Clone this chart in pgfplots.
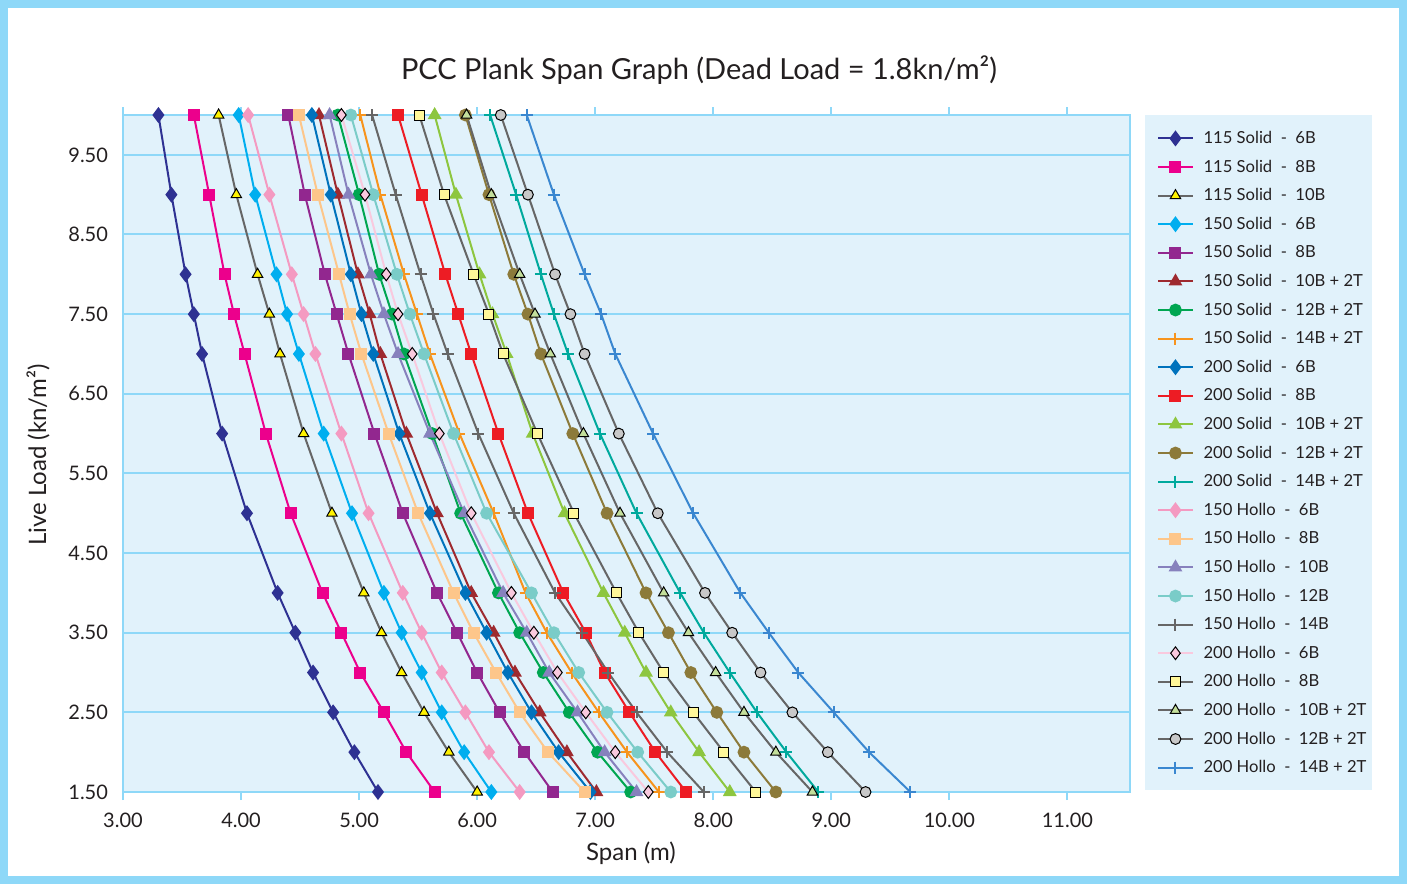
\documentclass[border=0pt]{standalone}
\usepackage{fontspec}
\setmainfont{Lato}
\usepackage{pgfplots}
\usepackage{pgfplotstable}
\pgfplotsset{compat=1.18}

\definecolor{framecol}{HTML}{8ED8F8}
\definecolor{bgcol}{HTML}{E1F2FB}
\definecolor{gridcol}{HTML}{8ED8F8}
\definecolor{txtcol}{HTML}{231F20}
\definecolor{cNavy}{HTML}{2E3192}
\definecolor{cMag}{HTML}{EC008C}
\definecolor{cGray}{HTML}{666666}
\definecolor{cYel}{HTML}{FFF200}
\definecolor{cCyan}{HTML}{00AEEF}
\definecolor{cPurp}{HTML}{92278F}
\definecolor{cMaroon}{HTML}{9E2A2F}
\definecolor{cGreen}{HTML}{00A651}
\definecolor{cOrange}{HTML}{F7941D}
\definecolor{cBlue}{HTML}{0072BC}
\definecolor{cRed}{HTML}{ED1C24}
\definecolor{cLime}{HTML}{8DC63F}
\definecolor{cOlive}{HTML}{8C7A3A}
\definecolor{cTeal}{HTML}{00A99D}
\definecolor{cPink}{HTML}{F49AC1}
\definecolor{cPeach}{HTML}{FDC68A}
\definecolor{cLav}{HTML}{8781BD}
\definecolor{cAqua}{HTML}{7ACCC8}
\definecolor{cPaleP}{HTML}{F9C9DE}
\definecolor{cPaleY}{HTML}{FFF799}
\definecolor{cPaleG}{HTML}{C4DF9B}
\definecolor{cPaleGr}{HTML}{C8C8C8}
\definecolor{cSky}{HTML}{3A87D0}

% live load (ll) against span for each section
\pgfplotstableread{
ll  a    b    c    d    e    f    g    h    i    j    k    l    m    n    o    p    q    r    s    t    u    v    w
10  3.30 3.60 3.81 3.98 4.40 4.66 4.82 5.01 4.60 5.33 5.64 5.90 6.11 4.06 4.49 4.75 4.93 5.11 4.85 5.51 5.91 6.20 6.42
9   3.41 3.73 3.96 4.12 4.54 4.82 5.00 5.18 4.76 5.53 5.82 6.10 6.33 4.24 4.65 4.91 5.12 5.31 5.05 5.72 6.12 6.43 6.65
8   3.53 3.86 4.14 4.30 4.71 4.99 5.17 5.38 4.93 5.73 6.02 6.31 6.54 4.43 4.83 5.10 5.32 5.52 5.23 5.97 6.36 6.66 6.91
7.5 3.60 3.94 4.24 4.39 4.81 5.09 5.28 5.49 5.02 5.84 6.13 6.43 6.65 4.53 4.92 5.21 5.43 5.63 5.33 6.10 6.49 6.79 7.05
7   3.67 4.03 4.33 4.49 4.91 5.18 5.38 5.60 5.12 5.95 6.25 6.54 6.77 4.63 5.02 5.33 5.55 5.75 5.45 6.22 6.62 6.91 7.17
6   3.84 4.21 4.53 4.70 5.13 5.40 5.62 5.85 5.34 6.18 6.47 6.81 7.04 4.85 5.25 5.60 5.80 6.01 5.68 6.51 6.90 7.20 7.49
5   4.05 4.42 4.77 4.94 5.37 5.66 5.86 6.14 5.60 6.43 6.74 7.10 7.35 5.08 5.50 5.89 6.08 6.31 5.95 6.82 7.21 7.53 7.83
4   4.31 4.69 5.04 5.21 5.66 5.95 6.18 6.41 5.90 6.73 7.07 7.43 7.72 5.37 5.80 6.22 6.46 6.66 6.29 7.18 7.58 7.93 8.23
3.5 4.46 4.85 5.19 5.36 5.83 6.14 6.36 6.59 6.08 6.92 7.25 7.62 7.92 5.53 5.97 6.42 6.65 6.89 6.48 7.37 7.79 8.16 8.47
3   4.61 5.01 5.36 5.53 6.00 6.32 6.56 6.80 6.26 7.08 7.43 7.81 8.14 5.70 6.16 6.61 6.86 7.11 6.68 7.58 8.02 8.40 8.72
2.5 4.78 5.21 5.55 5.70 6.19 6.53 6.78 7.03 6.46 7.29 7.64 8.03 8.37 5.90 6.36 6.85 7.10 7.35 6.92 7.83 8.26 8.67 9.02
2   4.96 5.40 5.76 5.89 6.40 6.76 7.02 7.27 6.69 7.51 7.88 8.26 8.62 6.10 6.60 7.08 7.36 7.61 7.17 8.09 8.53 8.97 9.32
1.5 5.16 5.64 6.00 6.12 6.64 7.01 7.30 7.54 6.96 7.77 8.14 8.53 8.89 6.36 6.91 7.35 7.64 7.92 7.45 8.36 8.84 9.29 9.67
}\spans

\begin{document}
\begin{tikzpicture}[x=1pt,y=1pt]
\draw[line width=4pt, framecol] (-59.5,-44) rectangle (640,394);
\fill[bgcol] (511,1) rectangle (624.5,338.5);
\node[txtcol, font=\fontsize{14.5}{16}\selectfont] at (288,361) {PCC Plank Span Graph (Dead Load = 1.8kn/m²)};
\node[txtcol, font=\fontsize{12}{14}\selectfont, rotate=90] at (-42.5,168.5) {Live Load (kn/m²)};
\node[txtcol, font=\fontsize{12}{14}\selectfont] at (254,-30.5) {Span (m)};
\begin{axis}[
    at={(0,0)}, anchor=south west,
    scale only axis,
    width=503.5pt, height=338.5pt,
    xmin=3, xmax=11.53,
    ymin=1.5, ymax=10,
    xtick={3,4,...,11},
    ytick={1.5,2.5,...,9.5},
    axis background/.style={fill=bgcol},
    axis line style={draw=gridcol, line width=1pt},
    ymajorgrids,
    grid style={draw=gridcol, line width=1pt},
    tick align=outside,
    xtick style={draw=gridcol, line width=1pt},
    major tick length=4pt,
    ytick style={draw=none},
    xticklabel style={yshift=-3pt, /pgf/number format/.cd, fixed, fixed zerofill, precision=2},
    yticklabel style={/pgf/number format/.cd, fixed, fixed zerofill, precision=2},
    /pgf/number format/assume math mode=true,
    tick label style={font=\fontsize{10}{12}\selectfont, text=txtcol},
    legend cell align=left,
    legend style={at={(rel axis cs:1,1)}, xshift=7.5pt, anchor=north west,
        draw=none, fill=none, inner xsep=6pt, inner ysep=7pt, row sep=5.3pt,
        font=\fontsize{8.3}{10}\selectfont, text=txtcol,
        nodes={inner ysep=0pt, inner xsep=5pt, text height=7pt, text depth=2pt}},
    every axis plot/.append style={line width=1pt},
]
\addplot[cNavy, mark=diamond*, mark size=3.2pt] table[x=a, y=ll] {\spans};
\addlegendentry{115 Solid~~-~~6B}
\addplot[cMag, mark=square*, mark size=2.5pt] table[x=b, y=ll] {\spans};
\addlegendentry{115 Solid~~-~~8B}
\addplot[cGray, mark=triangle*, mark size=3pt, mark options={fill=cYel, draw=black, line width=0.5pt}] table[x=c, y=ll] {\spans};
\addlegendentry{115 Solid~~-~~10B}
\addplot[cCyan, mark=diamond*, mark size=3.2pt] table[x=d, y=ll] {\spans};
\addlegendentry{150 Solid~~-~~6B}
\addplot[cPurp, mark=square*, mark size=2.5pt] table[x=e, y=ll] {\spans};
\addlegendentry{150 Solid~~-~~8B}
\addplot[cMaroon, mark=triangle*, mark size=3pt] table[x=f, y=ll] {\spans};
\addlegendentry{150 Solid~~-~~10B + 2T}
\addplot[cGreen, mark=*, mark size=2.7pt] table[x=g, y=ll] {\spans};
\addlegendentry{150 Solid~~-~~12B + 2T}
\addplot[cOrange, mark=+, mark size=3pt] table[x=h, y=ll] {\spans};
\addlegendentry{150 Solid~~-~~14B + 2T}
\addplot[cBlue, mark=diamond*, mark size=3.2pt] table[x=i, y=ll] {\spans};
\addlegendentry{200 Solid~~-~~6B}
\addplot[cRed, mark=square*, mark size=2.5pt] table[x=j, y=ll] {\spans};
\addlegendentry{200 Solid~~-~~8B}
\addplot[cLime, mark=triangle*, mark size=3pt] table[x=k, y=ll] {\spans};
\addlegendentry{200 Solid~~-~~10B + 2T}
\addplot[cOlive, mark=*, mark size=2.7pt] table[x=l, y=ll] {\spans};
\addlegendentry{200 Solid~~-~~12B + 2T}
\addplot[cTeal, mark=+, mark size=3pt] table[x=m, y=ll] {\spans};
\addlegendentry{200 Solid~~-~~14B + 2T}
\addplot[cPink, mark=diamond*, mark size=3.2pt] table[x=n, y=ll] {\spans};
\addlegendentry{150 Hollo~~-~~6B}
\addplot[cPeach, mark=square*, mark size=2.5pt] table[x=o, y=ll] {\spans};
\addlegendentry{150 Hollo~~-~~8B}
\addplot[cLav, mark=triangle*, mark size=3pt] table[x=p, y=ll] {\spans};
\addlegendentry{150 Hollo~~-~~10B}
\addplot[cAqua, mark=*, mark size=2.7pt] table[x=q, y=ll] {\spans};
\addlegendentry{150 Hollo~~-~~12B}
\addplot[cGray, mark=+, mark size=3pt] table[x=r, y=ll] {\spans};
\addlegendentry{150 Hollo~~-~~14B}
\addplot[cPaleP, mark=diamond*, mark size=3.2pt, mark options={fill=cPaleP, draw=black, line width=0.5pt}] table[x=s, y=ll] {\spans};
\addlegendentry{200 Hollo~~-~~6B}
\addplot[cGray, mark=square*, mark size=2.5pt, mark options={fill=cPaleY, draw=black, line width=0.5pt}] table[x=t, y=ll] {\spans};
\addlegendentry{200 Hollo~~-~~8B}
\addplot[cGray, mark=triangle*, mark size=3pt, mark options={fill=cPaleG, draw=black, line width=0.5pt}] table[x=u, y=ll] {\spans};
\addlegendentry{200 Hollo~~-~~10B + 2T}
\addplot[cGray, mark=*, mark size=2.7pt, mark options={fill=cPaleGr, draw=black, line width=0.5pt}] table[x=v, y=ll] {\spans};
\addlegendentry{200 Hollo~~-~~12B + 2T}
\addplot[cSky, mark=+, mark size=3pt] table[x=w, y=ll] {\spans};
\addlegendentry{200 Hollo~~-~~14B + 2T}
\end{axis}
\end{tikzpicture}
\end{document}
